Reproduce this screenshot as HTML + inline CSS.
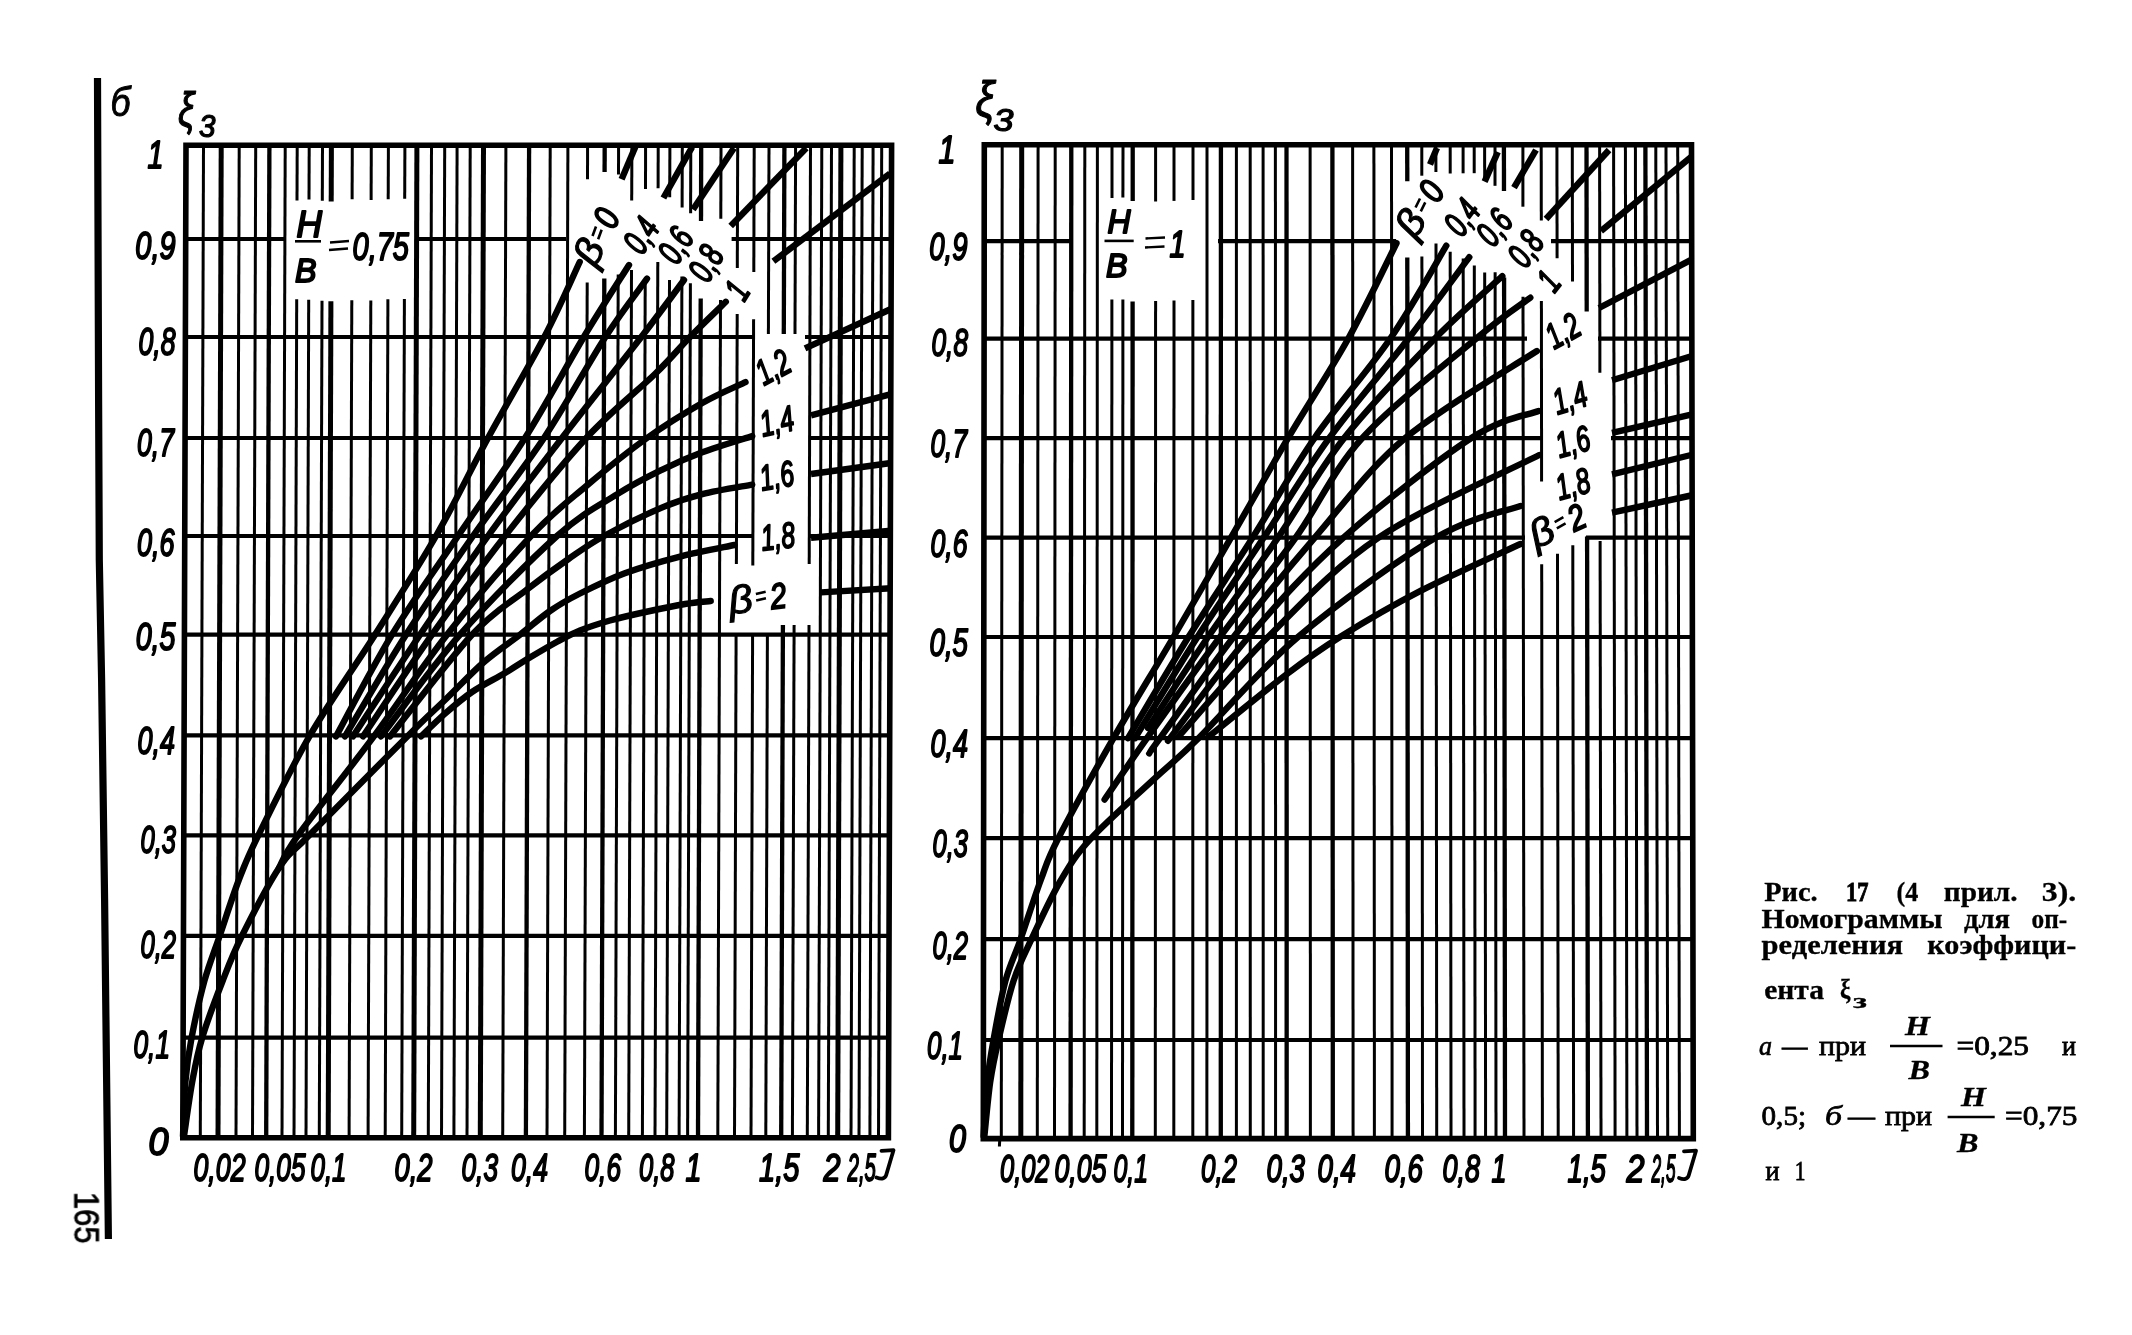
<!DOCTYPE html>
<html lang="ru"><head><meta charset="utf-8"><title>Рис. 17</title>
<style>html,body{margin:0;padding:0;background:#fff}body{width:2132px;height:1335px;overflow:hidden;position:relative;font-family:"Liberation Serif",serif}svg{position:absolute;left:0;top:0;display:block}.cap{position:absolute;color:#000;white-space:nowrap}</style></head><body>
<svg width="2132" height="1335" viewBox="0 0 2132 1335">
<rect x="0" y="0" width="2132" height="1335" fill="#fff"/>
<g stroke="#000" fill="none" stroke-linecap="butt">
<path d="M97.5 78L98.6 400L99.3 560L101.6 680L104.6 900L108.4 1239" stroke-width="7.2" fill="none"/>
<line x1="203.5" y1="145.3" x2="200.3" y2="1137.8" stroke-width="3"/>
<line x1="221.2" y1="145.3" x2="218" y2="1137.8" stroke-width="5"/>
<line x1="239.2" y1="145.3" x2="236" y2="1137.8" stroke-width="3"/>
<line x1="255.7" y1="145.3" x2="252.5" y2="1137.8" stroke-width="3"/>
<line x1="269.4" y1="145.3" x2="266.2" y2="1137.8" stroke-width="4.3"/>
<line x1="285.2" y1="145.3" x2="282" y2="1137.8" stroke-width="3"/>
<line x1="297.2" y1="145.3" x2="297" y2="200.5" stroke-width="3"/>
<line x1="296.7" y1="299.3" x2="294" y2="1137.8" stroke-width="3"/>
<line x1="309.2" y1="145.3" x2="309" y2="199.6" stroke-width="3"/>
<line x1="308.7" y1="299.7" x2="306" y2="1137.8" stroke-width="3"/>
<line x1="322.5" y1="145.3" x2="322.3" y2="200.8" stroke-width="3"/>
<line x1="322" y1="300.7" x2="319.3" y2="1137.8" stroke-width="3"/>
<line x1="331.4" y1="145.3" x2="331.2" y2="201.5" stroke-width="5"/>
<line x1="330.9" y1="301.3" x2="328.2" y2="1137.8" stroke-width="5"/>
<line x1="352.3" y1="145.3" x2="352.1" y2="199.3" stroke-width="3"/>
<line x1="351.8" y1="300.2" x2="349.1" y2="1137.8" stroke-width="3"/>
<line x1="371.3" y1="145.3" x2="371.1" y2="199.9" stroke-width="3"/>
<line x1="370.8" y1="300.4" x2="368.1" y2="1137.8" stroke-width="3"/>
<line x1="388.4" y1="145.3" x2="388.2" y2="199.2" stroke-width="3"/>
<line x1="387.9" y1="299.3" x2="385.2" y2="1137.8" stroke-width="3"/>
<line x1="404.9" y1="145.3" x2="404.7" y2="198.7" stroke-width="3"/>
<line x1="404.4" y1="299" x2="401.7" y2="1137.8" stroke-width="3"/>
<line x1="416.9" y1="145.3" x2="413.7" y2="1137.8" stroke-width="5"/>
<line x1="431.5" y1="145.3" x2="428.3" y2="1137.8" stroke-width="3"/>
<line x1="444.7" y1="145.3" x2="441.5" y2="1137.8" stroke-width="3"/>
<line x1="457.1" y1="145.3" x2="453.9" y2="1137.8" stroke-width="3"/>
<line x1="470.2" y1="145.3" x2="467" y2="1137.8" stroke-width="3"/>
<line x1="483.5" y1="145.3" x2="480.3" y2="1137.8" stroke-width="5"/>
<line x1="505.9" y1="145.3" x2="502.7" y2="1137.8" stroke-width="3"/>
<line x1="529.1" y1="145.3" x2="525.9" y2="1137.8" stroke-width="4.3"/>
<line x1="550.2" y1="145.3" x2="547" y2="1137.8" stroke-width="3"/>
<line x1="567.9" y1="145.3" x2="564.7" y2="1137.8" stroke-width="3"/>
<line x1="587.6" y1="145.3" x2="587.5" y2="179.2" stroke-width="3"/>
<line x1="587.2" y1="282.6" x2="584.4" y2="1137.8" stroke-width="3"/>
<line x1="604.7" y1="145.3" x2="604.6" y2="171.9" stroke-width="4.3"/>
<line x1="604.3" y1="278.5" x2="601.5" y2="1137.8" stroke-width="4.3"/>
<line x1="618.6" y1="145.3" x2="618.5" y2="174.6" stroke-width="3"/>
<line x1="618.2" y1="274.5" x2="615.4" y2="1137.8" stroke-width="3"/>
<line x1="631.9" y1="145.3" x2="631.7" y2="200.5" stroke-width="3"/>
<line x1="631.5" y1="270.1" x2="628.7" y2="1137.8" stroke-width="3"/>
<line x1="645.6" y1="145.3" x2="645.5" y2="189" stroke-width="3"/>
<line x1="645.2" y1="283.4" x2="642.4" y2="1137.8" stroke-width="3"/>
<line x1="658.2" y1="145.3" x2="658.1" y2="188.3" stroke-width="3"/>
<line x1="657.8" y1="262.1" x2="655" y2="1137.8" stroke-width="3"/>
<line x1="669.9" y1="145.3" x2="669.7" y2="197.2" stroke-width="3"/>
<line x1="669.5" y1="280" x2="666.7" y2="1137.8" stroke-width="3"/>
<line x1="682.3" y1="145.3" x2="682.1" y2="207.6" stroke-width="3"/>
<line x1="681.9" y1="276.6" x2="679.1" y2="1137.8" stroke-width="3"/>
<line x1="690.8" y1="145.3" x2="690.6" y2="213.2" stroke-width="3"/>
<line x1="690.4" y1="283.2" x2="687.6" y2="1137.8" stroke-width="3"/>
<line x1="701.2" y1="145.3" x2="701" y2="221" stroke-width="4.3"/>
<line x1="700.7" y1="298.4" x2="698" y2="1137.8" stroke-width="4.3"/>
<line x1="721" y1="145.3" x2="720.8" y2="218.7" stroke-width="3"/>
<line x1="720.5" y1="300" x2="717.8" y2="1137.8" stroke-width="3"/>
<line x1="737.7" y1="145.3" x2="737.3" y2="268" stroke-width="3"/>
<line x1="737.2" y1="314" x2="736.4" y2="564" stroke-width="3"/>
<line x1="736.1" y1="634.7" x2="734.5" y2="1137.8" stroke-width="3"/>
<line x1="754.2" y1="145.3" x2="753.8" y2="272.1" stroke-width="3"/>
<line x1="753.6" y1="319.2" x2="752.8" y2="565.6" stroke-width="3"/>
<line x1="752.6" y1="634.7" x2="751" y2="1137.8" stroke-width="3"/>
<line x1="769" y1="145.3" x2="768.4" y2="334" stroke-width="3"/>
<line x1="767.4" y1="634" x2="765.8" y2="1137.8" stroke-width="3"/>
<line x1="784.4" y1="145.3" x2="783.8" y2="334" stroke-width="4.3"/>
<line x1="782.9" y1="625" x2="781.2" y2="1137.8" stroke-width="4.3"/>
<line x1="795.6" y1="145.3" x2="795" y2="334" stroke-width="3"/>
<line x1="794.1" y1="625" x2="792.4" y2="1137.8" stroke-width="3"/>
<line x1="810.5" y1="145.3" x2="809.2" y2="564" stroke-width="3"/>
<line x1="809" y1="625" x2="807.3" y2="1137.8" stroke-width="3"/>
<line x1="821.8" y1="145.3" x2="818.6" y2="1137.8" stroke-width="3"/>
<line x1="831.5" y1="145.3" x2="828.3" y2="1137.8" stroke-width="3"/>
<line x1="840.9" y1="145.3" x2="837.7" y2="1137.8" stroke-width="5"/>
<line x1="854.2" y1="145.3" x2="851" y2="1137.8" stroke-width="3"/>
<line x1="862.2" y1="145.3" x2="859" y2="1137.8" stroke-width="3"/>
<line x1="873.1" y1="145.3" x2="869.9" y2="1137.8" stroke-width="3"/>
<line x1="881.7" y1="145.3" x2="878.5" y2="1137.8" stroke-width="3"/>
<line x1="185.7" y1="239" x2="286" y2="239" stroke-width="4.2"/>
<line x1="415" y1="239" x2="566" y2="239" stroke-width="4.2"/>
<line x1="731.6" y1="239" x2="891.3" y2="239" stroke-width="4.2"/>
<line x1="185.4" y1="337" x2="754" y2="337" stroke-width="4.2"/>
<line x1="805" y1="337" x2="891" y2="337" stroke-width="4.2"/>
<line x1="185.1" y1="438" x2="754" y2="438" stroke-width="4.2"/>
<line x1="810" y1="438" x2="890.7" y2="438" stroke-width="4.2"/>
<line x1="184.7" y1="536" x2="754" y2="536" stroke-width="4.2"/>
<line x1="808" y1="536" x2="890.3" y2="536" stroke-width="4.2"/>
<line x1="184.4" y1="634.7" x2="890" y2="634.7" stroke-width="4.2"/>
<line x1="184.1" y1="735.4" x2="889.7" y2="735.4" stroke-width="4.2"/>
<line x1="183.8" y1="835.4" x2="889.4" y2="835.4" stroke-width="4.2"/>
<line x1="183.5" y1="935.8" x2="889.1" y2="935.8" stroke-width="4.2"/>
<line x1="183.1" y1="1037.7" x2="888.7" y2="1037.7" stroke-width="4.2"/>
<path d="M186 145.3L891.6 145.3L888.4 1137.8L182.8 1137.8Z" fill="none" stroke-width="5.6" stroke-linejoin="miter"/>
<path d="M183 1136C183.4 1127 184 1098.4 185.4 1082C186.8 1065.6 188.4 1054.5 191.6 1037.7C194.8 1020.9 199.7 998 204.4 981C209.1 964 214 952.6 219.7 935.8C225.4 919 232.4 896.7 238.8 880C245.2 863.3 246.4 859.5 258.3 835.4C270.2 811.3 290.6 768.8 310 735.4C329.4 702 354 667.9 375 634.7C396 601.5 417.2 568.8 436 536C454.8 503.2 469.9 471.2 488 438C506.1 404.8 529 366.3 544.3 337C559.6 307.7 573.8 274.5 579.7 262" fill="none" stroke-width="6.4" stroke-linecap="round"/>
<path d="M621.6 179.3L635.5 146.4" fill="none" stroke-width="6.4" stroke-linecap="butt"/>
<path d="M336 736.4C345.3 719.5 371.7 668.1 392 634.7C412.3 601.3 435.8 568.8 458 536C480.2 503.2 504 471.2 525 438C546 404.8 566.5 365.8 583.8 337C601.1 308.2 621.5 277 629 265" fill="none" stroke-width="6.4" stroke-linecap="round"/>
<path d="M663.4 198C667.8 190.2 684.9 159.8 689.7 151.3C694.5 142.8 691.6 147.7 692 147" fill="none" stroke-width="6.4" stroke-linecap="butt"/>
<path d="M345 736.4C355.2 719.5 384.7 668.1 406 634.7C427.3 601.3 450 568.8 473 536C496 503.2 521.9 471.2 544 438C566.1 404.8 588.2 363.6 605.4 337C622.6 310.4 640.1 288.4 647 278.7" fill="none" stroke-width="6.4" stroke-linecap="round"/>
<path d="M693 209.6L734 148" fill="none" stroke-width="6.4" stroke-linecap="butt"/>
<path d="M353 736.4C364.2 719.5 397.5 668.1 420 634.7C442.5 601.3 464.3 568.8 488 536C511.7 503.2 536.5 471.2 562 438C587.5 404.8 621 363.3 641.3 337C661.6 310.7 676.9 289.5 684 280" fill="none" stroke-width="6.4" stroke-linecap="round"/>
<path d="M730.7 226L806.3 148" fill="none" stroke-width="6.4" stroke-linecap="butt"/>
<path d="M363 736.4C374.5 719.5 408.3 668.1 432 634.7C455.7 601.3 479.3 568.8 505 536C530.7 503.2 561.3 465 586.3 438C611.3 411 637.7 390.8 655 374C672.3 357.2 678.2 349 690 337C701.8 325 719.8 307.7 725.8 301.8" fill="none" stroke-width="6.4" stroke-linecap="round"/>
<path d="M773.4 261.3L890 173.5" fill="none" stroke-width="6.4" stroke-linecap="butt"/>
<path d="M279 868C282.2 862.6 282.1 857.5 298 835.4C313.9 813.3 349.8 768.8 374.6 735.4C399.4 702 420.9 667.9 447 634.7C473.1 601.5 507.8 560.8 531 536C554.2 511.2 567 502.3 586.3 486C605.6 469.7 627.7 451.8 647 438C666.3 424.2 685.9 412.3 702.3 403C718.7 393.7 738.3 385.6 745.5 382.1" fill="none" stroke-width="6.4" stroke-linecap="round"/>
<path d="M805 348.4L891 309" fill="none" stroke-width="6.4" stroke-linecap="butt"/>
<path d="M381 736.4C394.2 719.5 430.7 668.1 460 634.7C489.3 601.3 530.8 559.4 557 536C583.2 512.6 599.8 505.1 617.3 494.1C634.8 483.1 647.6 476.8 661.8 469.8C676 462.8 687.2 457.9 702.3 452.3C717.4 446.7 743.9 438.8 752.2 436.1" fill="none" stroke-width="6.4" stroke-linecap="round"/>
<path d="M811 415.4L891 394.2" fill="none" stroke-width="6.4" stroke-linecap="butt"/>
<path d="M390 736.4C403.7 719.5 449.3 659.1 472 634.7C494.7 610.3 510.2 602.6 526.3 590C542.4 577.4 555.5 568 568.5 559C581.5 550 588.5 544.6 604 536C619.5 527.4 645.4 514.6 661.8 507.6C678.2 500.6 687.2 497.9 702.3 494.1C717.4 490.3 743.9 486.2 752.2 484.6" fill="none" stroke-width="6.4" stroke-linecap="round"/>
<path d="M811 474L891 463" fill="none" stroke-width="6.4" stroke-linecap="butt"/>
<path d="M184 1136C185.4 1127 189.2 1098.4 192.2 1082C195.2 1065.6 197.1 1054.5 202.2 1037.7C207.3 1020.9 216 998 222.6 981C229.2 964 232.6 954.6 242 935.8C251.4 917 267.8 884.7 279 868C290.2 851.3 287.4 857.5 309 835.4C330.6 813.3 385.6 758 408.3 735.4C431 712.8 432.4 712.2 445 700C457.6 687.8 471.5 672.9 484 662C496.5 651.1 509 643.2 520 634.7C531 626.2 540 617.9 550 611C560 604.1 567.5 599.8 580 593.5C592.5 587.2 608 579.4 624.8 573.2C641.6 567 662.7 561 681 556.3C699.3 551.6 725.6 546.9 734.5 545" fill="none" stroke-width="6.4" stroke-linecap="round"/>
<path d="M811 537.8L891 530.7" fill="none" stroke-width="6.4" stroke-linecap="butt"/>
<path d="M421 736.4C425 732.6 436.5 721 445 713.6C453.5 706.2 462 698.8 472 692C482 685.2 495.5 678.7 505 673C514.5 667.3 520.2 663.2 529 658C537.8 652.8 549.1 646.1 557.6 641.5C566.1 636.9 571.3 634 580 630.5C588.7 627 598.7 623.7 610 620.5C621.3 617.3 635.2 614.2 647.7 611.5C660.2 608.8 674.5 605.8 685 604C695.5 602.2 706.4 601.5 710.7 601" fill="none" stroke-width="6.4" stroke-linecap="round"/>
<path d="M821 592.4L891 588.3" fill="none" stroke-width="6.4" stroke-linecap="butt"/>
<line x1="1002.2" y1="144.8" x2="1001.3" y2="1138.6" stroke-width="3"/>
<line x1="1021.7" y1="144.8" x2="1020.8" y2="1138.6" stroke-width="5"/>
<line x1="1038.1" y1="144.8" x2="1037.3" y2="1138.6" stroke-width="3"/>
<line x1="1055.2" y1="144.8" x2="1054.5" y2="1138.6" stroke-width="3"/>
<line x1="1071.3" y1="144.8" x2="1070.6" y2="1138.6" stroke-width="4.3"/>
<line x1="1084.8" y1="144.8" x2="1084.2" y2="1138.6" stroke-width="3"/>
<line x1="1097.4" y1="144.8" x2="1096.8" y2="1138.6" stroke-width="3"/>
<line x1="1112" y1="144.8" x2="1112" y2="198" stroke-width="3"/>
<line x1="1111.9" y1="299.5" x2="1111.5" y2="1138.6" stroke-width="3"/>
<line x1="1123" y1="144.8" x2="1122.9" y2="197.6" stroke-width="3"/>
<line x1="1122.9" y1="299.6" x2="1122.5" y2="1138.6" stroke-width="3"/>
<line x1="1132.7" y1="144.8" x2="1132.7" y2="201" stroke-width="4.3"/>
<line x1="1132.6" y1="301.5" x2="1132.3" y2="1138.6" stroke-width="4.3"/>
<line x1="1155.6" y1="144.8" x2="1155.6" y2="201.5" stroke-width="3"/>
<line x1="1155.6" y1="301" x2="1155.3" y2="1138.6" stroke-width="3"/>
<line x1="1174" y1="144.8" x2="1174" y2="200.9" stroke-width="3"/>
<line x1="1174" y1="300.5" x2="1173.8" y2="1138.6" stroke-width="3"/>
<line x1="1193" y1="144.8" x2="1193" y2="200" stroke-width="3"/>
<line x1="1192.9" y1="300" x2="1192.8" y2="1138.6" stroke-width="3"/>
<line x1="1207" y1="144.8" x2="1206.9" y2="1138.6" stroke-width="3"/>
<line x1="1220.9" y1="144.8" x2="1220.8" y2="1138.6" stroke-width="4.3"/>
<line x1="1236.4" y1="144.8" x2="1236.4" y2="1138.6" stroke-width="3"/>
<line x1="1250.2" y1="144.8" x2="1250.3" y2="1138.6" stroke-width="3"/>
<line x1="1263.1" y1="144.8" x2="1263.2" y2="1138.6" stroke-width="3"/>
<line x1="1275.4" y1="144.8" x2="1275.6" y2="1138.6" stroke-width="3"/>
<line x1="1286.5" y1="144.8" x2="1286.7" y2="1138.6" stroke-width="4.3"/>
<line x1="1310.1" y1="144.8" x2="1310.4" y2="1138.6" stroke-width="3"/>
<line x1="1332.4" y1="144.8" x2="1332.8" y2="1138.6" stroke-width="4.3"/>
<line x1="1352.6" y1="144.8" x2="1353.1" y2="1138.6" stroke-width="3"/>
<line x1="1373.9" y1="144.8" x2="1374.4" y2="1138.6" stroke-width="3"/>
<line x1="1391.5" y1="144.8" x2="1392.1" y2="1138.6" stroke-width="3"/>
<line x1="1407.2" y1="144.8" x2="1407.3" y2="181.3" stroke-width="4.3"/>
<line x1="1407.3" y1="257.4" x2="1407.9" y2="1138.6" stroke-width="4.3"/>
<line x1="1421.8" y1="144.8" x2="1421.8" y2="175.7" stroke-width="3"/>
<line x1="1421.9" y1="256.4" x2="1422.5" y2="1138.6" stroke-width="3"/>
<line x1="1435.9" y1="144.8" x2="1435.9" y2="172" stroke-width="3"/>
<line x1="1436" y1="243.4" x2="1436.7" y2="1138.6" stroke-width="3"/>
<line x1="1450.2" y1="144.8" x2="1450.2" y2="173.5" stroke-width="3"/>
<line x1="1450.2" y1="251.7" x2="1451" y2="1138.6" stroke-width="3"/>
<line x1="1463.1" y1="144.8" x2="1463.1" y2="173.3" stroke-width="3"/>
<line x1="1463.2" y1="258.5" x2="1464" y2="1138.6" stroke-width="3"/>
<line x1="1474.2" y1="144.8" x2="1474.2" y2="173.2" stroke-width="3"/>
<line x1="1474.3" y1="265.5" x2="1475.1" y2="1138.6" stroke-width="3"/>
<line x1="1484.6" y1="144.8" x2="1484.7" y2="181.1" stroke-width="3"/>
<line x1="1484.7" y1="272.6" x2="1485.6" y2="1138.6" stroke-width="3"/>
<line x1="1495" y1="144.8" x2="1495" y2="185.8" stroke-width="3"/>
<line x1="1495.1" y1="272.2" x2="1496" y2="1138.6" stroke-width="3"/>
<line x1="1503.9" y1="144.8" x2="1504" y2="190.9" stroke-width="4.3"/>
<line x1="1504.1" y1="277.5" x2="1505" y2="1138.6" stroke-width="4.3"/>
<line x1="1522.9" y1="144.8" x2="1522.9" y2="206.7" stroke-width="3"/>
<line x1="1523" y1="296.7" x2="1524" y2="1138.6" stroke-width="3"/>
<line x1="1541.2" y1="144.8" x2="1541.3" y2="220.4" stroke-width="3"/>
<line x1="1541.4" y1="300.9" x2="1541.6" y2="481.4" stroke-width="3"/>
<line x1="1541.7" y1="564.3" x2="1542.4" y2="1138.6" stroke-width="3"/>
<line x1="1556.9" y1="144.8" x2="1557.1" y2="258.3" stroke-width="3"/>
<line x1="1557.5" y1="553.7" x2="1558.2" y2="1138.6" stroke-width="3"/>
<line x1="1572.3" y1="144.8" x2="1572.5" y2="281.4" stroke-width="3"/>
<line x1="1572.8" y1="545.2" x2="1573.6" y2="1138.6" stroke-width="3"/>
<line x1="1586.5" y1="144.8" x2="1586.7" y2="311.6" stroke-width="4.3"/>
<line x1="1587.1" y1="536.4" x2="1587.9" y2="1138.6" stroke-width="4.3"/>
<line x1="1599.6" y1="144.8" x2="1599.9" y2="372.7" stroke-width="3"/>
<line x1="1600.1" y1="541" x2="1601" y2="1138.6" stroke-width="3"/>
<line x1="1613.6" y1="144.8" x2="1615.1" y2="1138.6" stroke-width="3"/>
<line x1="1625.4" y1="144.8" x2="1626.9" y2="1138.6" stroke-width="3"/>
<line x1="1635.4" y1="144.8" x2="1637" y2="1138.6" stroke-width="3"/>
<line x1="1645.4" y1="144.8" x2="1647" y2="1138.6" stroke-width="4.3"/>
<line x1="1655.8" y1="144.8" x2="1657.5" y2="1138.6" stroke-width="3"/>
<line x1="1666" y1="144.8" x2="1667.7" y2="1138.6" stroke-width="3"/>
<line x1="1677.7" y1="144.8" x2="1679.4" y2="1138.6" stroke-width="3"/>
<line x1="984.2" y1="241.2" x2="1073" y2="241.2" stroke-width="4.2"/>
<line x1="1218" y1="241.2" x2="1396" y2="241.2" stroke-width="4.2"/>
<line x1="1551" y1="241.2" x2="1691.7" y2="241.2" stroke-width="4.2"/>
<line x1="984.1" y1="338.7" x2="1527" y2="338.7" stroke-width="4.2"/>
<line x1="1598" y1="338.7" x2="1691.9" y2="338.7" stroke-width="4.2"/>
<line x1="984" y1="438.2" x2="1543" y2="438.2" stroke-width="4.2"/>
<line x1="1611" y1="438.2" x2="1692" y2="438.2" stroke-width="4.2"/>
<line x1="983.9" y1="537.6" x2="1525" y2="537.6" stroke-width="4.2"/>
<line x1="1586" y1="537.6" x2="1692.2" y2="537.6" stroke-width="4.2"/>
<line x1="983.8" y1="637" x2="1692.4" y2="637" stroke-width="4.2"/>
<line x1="983.7" y1="738.2" x2="1692.6" y2="738.2" stroke-width="4.2"/>
<line x1="983.6" y1="838.2" x2="1692.8" y2="838.2" stroke-width="4.2"/>
<line x1="983.5" y1="939.2" x2="1692.9" y2="939.2" stroke-width="4.2"/>
<line x1="983.4" y1="1040" x2="1693.1" y2="1040" stroke-width="4.2"/>
<path d="M984.3 144.8L1691.5 144.8L1693.3 1138.6L983.3 1138.6Z" fill="none" stroke-width="5.6" stroke-linejoin="miter"/>
<path d="M983.6 1136C984.2 1127 985.6 1098 987.2 1082C988.9 1066 990.5 1056.8 993.5 1040C996.5 1023.2 1000.9 997.8 1005.4 981C1009.9 964.2 1014.7 956 1020.6 939.2C1026.5 922.4 1034.5 896.8 1040.8 880C1047.1 863.2 1046.2 861.8 1058.3 838.2C1070.4 814.6 1094.3 771.7 1113.5 738.2C1132.7 704.7 1153.9 670.4 1173.5 637C1193.1 603.6 1211.9 570.7 1231 537.6C1250.1 504.5 1268.5 471.4 1288 438.2C1307.5 405 1330.1 371.2 1348.2 338.7C1366.3 306.2 1388.5 259.1 1396.5 243.2" fill="none" stroke-width="6.4" stroke-linecap="round"/>
<path d="M1430 164.4L1437 148" fill="none" stroke-width="6.4" stroke-linecap="butt"/>
<path d="M1128 738.2C1138.1 721.3 1167.7 670.4 1188.5 637C1209.3 603.6 1231.6 570.7 1252.6 537.6C1273.6 504.5 1291.5 471.4 1314.4 438.2C1337.3 405 1368.2 370.8 1390.2 338.7C1412.2 306.6 1437 261.2 1446.3 245.7" fill="none" stroke-width="6.4" stroke-linecap="round"/>
<path d="M1484.6 181.6L1497.8 152" fill="none" stroke-width="6.4" stroke-linecap="butt"/>
<path d="M1135 738.2C1145.4 721.3 1176 670.4 1197.5 637C1219 603.6 1241.8 570.7 1263.8 537.6C1285.8 504.5 1305.1 471.4 1329.2 438.2C1353.3 405 1385.1 368.9 1408.4 338.7C1431.8 308.5 1459.2 270.8 1469.3 257.2" fill="none" stroke-width="6.4" stroke-linecap="round"/>
<path d="M1514 187.6L1536 150" fill="none" stroke-width="6.4" stroke-linecap="butt"/>
<path d="M1148 728C1158 712.8 1186.3 668.7 1208 637C1229.7 605.3 1255.3 570.7 1278 537.6C1300.7 504.5 1317.9 471.4 1344 438.2C1370.1 405 1408.3 365.7 1434.7 338.7C1461.1 311.7 1491 286.6 1502.3 276.2" fill="none" stroke-width="6.4" stroke-linecap="round"/>
<path d="M1546 219L1609 150" fill="none" stroke-width="6.4" stroke-linecap="butt"/>
<path d="M1104.6 799.5C1111.7 789.3 1127.8 765.3 1147 738.2C1166.2 711.1 1195.2 670.4 1220 637C1244.8 603.6 1272 570.7 1295.7 537.6C1319.4 504.5 1332.2 471.4 1362.2 438.2C1392.2 405 1448 362.1 1476 338.7C1504 315.3 1521.2 304.5 1530.3 297.7" fill="none" stroke-width="6.4" stroke-linecap="round"/>
<path d="M1601 231L1692 156.3" fill="none" stroke-width="6.4" stroke-linecap="butt"/>
<path d="M1149.2 753.4C1151 750.9 1145.9 757.6 1160 738.2C1174.1 718.8 1207.8 670.4 1233.6 637C1259.4 603.6 1286.2 570.7 1314.8 537.6C1343.4 504.5 1368 469.3 1405 438.2C1442 407.1 1514.9 365.5 1536.9 351" fill="none" stroke-width="6.4" stroke-linecap="round"/>
<path d="M1599 308L1692 259.4" fill="none" stroke-width="6.4" stroke-linecap="butt"/>
<path d="M1168 740.8C1181.4 723.5 1219.3 670.9 1248.6 637C1277.8 603.1 1306.4 570.7 1343.5 537.6C1380.6 504.5 1438.5 459.3 1471 438.2C1503.5 417.1 1527.3 415.5 1538.6 411" fill="none" stroke-width="6.4" stroke-linecap="round"/>
<path d="M1612 380.2L1692 356" fill="none" stroke-width="6.4" stroke-linecap="butt"/>
<path d="M1178.6 736.6C1193.5 720 1234.7 670.2 1268 637C1301.3 603.8 1333.4 567.9 1378.6 537.6C1423.8 507.3 1512.4 468.8 1539.2 455" fill="none" stroke-width="6.4" stroke-linecap="round"/>
<path d="M1612 432.8L1691 414.6" fill="none" stroke-width="6.4" stroke-linecap="butt"/>
<path d="M984.4 1136C985.4 1127 987.9 1098 990.2 1082C992.6 1066 994.6 1056.8 998.5 1040C1002.4 1023.2 1008 997.8 1013.5 981C1019 964.2 1023.6 956 1031.5 939.2C1039.4 922.4 1051 896.8 1061 880C1071 863.2 1075.9 854.9 1091.3 838.2C1106.7 821.5 1135.5 796.3 1153.4 779.6C1171.3 762.9 1174.4 762 1198.5 738.2C1222.6 714.4 1258.4 670.4 1298 637C1337.6 603.6 1398.9 559.4 1436 537.6C1473.1 515.8 1506.4 511.3 1520.5 506" fill="none" stroke-width="6.4" stroke-linecap="round"/>
<path d="M1612 474.3L1691 455" fill="none" stroke-width="6.4" stroke-linecap="butt"/>
<path d="M1210 735.6C1222.7 725.5 1264.3 691.1 1286 674.7C1307.7 658.3 1317.5 651 1340 637C1362.5 623 1390.9 606.2 1421 590.7C1451.1 575.2 1503.9 551.8 1520.5 544" fill="none" stroke-width="6.4" stroke-linecap="round"/>
<path d="M1612 512.7L1691 495.5" fill="none" stroke-width="6.4" stroke-linecap="butt"/>
<line x1="999.8" y1="1138" x2="999.4" y2="1146.5" stroke-width="3"/>
</g>
<defs><filter id="nf" x="0" y="0" width="2132" height="1335" filterUnits="userSpaceOnUse" primitiveUnits="userSpaceOnUse"><feOffset dx="0" dy="0"/></filter></defs>
<g filter="url(#nf)">
<text x="147.5" y="167.5" textLength="16" lengthAdjust="spacingAndGlyphs" font-family="'Liberation Sans', sans-serif" font-size="39" font-style="italic" fill="#000" stroke="#000" stroke-width="1.9" stroke-linejoin="round">1</text>
<text x="135.3" y="258.8" textLength="40.2" lengthAdjust="spacingAndGlyphs" font-family="'Liberation Sans', sans-serif" font-size="39" font-style="italic" fill="#000" stroke="#000" stroke-width="1.9" stroke-linejoin="round">0,9</text>
<text x="138.5" y="355" textLength="37" lengthAdjust="spacingAndGlyphs" font-family="'Liberation Sans', sans-serif" font-size="39" font-style="italic" fill="#000" stroke="#000" stroke-width="1.9" stroke-linejoin="round">0,8</text>
<text x="137" y="456" textLength="37" lengthAdjust="spacingAndGlyphs" font-family="'Liberation Sans', sans-serif" font-size="39" font-style="italic" fill="#000" stroke="#000" stroke-width="1.9" stroke-linejoin="round">0,7</text>
<text x="137" y="556" textLength="37.5" lengthAdjust="spacingAndGlyphs" font-family="'Liberation Sans', sans-serif" font-size="39" font-style="italic" fill="#000" stroke="#000" stroke-width="1.9" stroke-linejoin="round">0,6</text>
<text x="135.7" y="650" textLength="39.8" lengthAdjust="spacingAndGlyphs" font-family="'Liberation Sans', sans-serif" font-size="39" font-style="italic" fill="#000" stroke="#000" stroke-width="1.9" stroke-linejoin="round">0,5</text>
<text x="137.5" y="753.5" textLength="37.5" lengthAdjust="spacingAndGlyphs" font-family="'Liberation Sans', sans-serif" font-size="39" font-style="italic" fill="#000" stroke="#000" stroke-width="1.9" stroke-linejoin="round">0,4</text>
<text x="140.5" y="852.5" textLength="35.5" lengthAdjust="spacingAndGlyphs" font-family="'Liberation Sans', sans-serif" font-size="39" font-style="italic" fill="#000" stroke="#000" stroke-width="1.9" stroke-linejoin="round">0,3</text>
<text x="140.5" y="957.5" textLength="35.5" lengthAdjust="spacingAndGlyphs" font-family="'Liberation Sans', sans-serif" font-size="39" font-style="italic" fill="#000" stroke="#000" stroke-width="1.9" stroke-linejoin="round">0,2</text>
<text x="133.5" y="1057.5" textLength="36.5" lengthAdjust="spacingAndGlyphs" font-family="'Liberation Sans', sans-serif" font-size="39" font-style="italic" fill="#000" stroke="#000" stroke-width="1.9" stroke-linejoin="round">0,1</text>
<text x="148.5" y="1155" textLength="20" lengthAdjust="spacingAndGlyphs" font-family="'Liberation Sans', sans-serif" font-size="39" font-style="italic" fill="#000" stroke="#000" stroke-width="1.9" stroke-linejoin="round">0</text>
<text x="938.5" y="162.5" textLength="17" lengthAdjust="spacingAndGlyphs" font-family="'Liberation Sans', sans-serif" font-size="39" font-style="italic" fill="#000" stroke="#000" stroke-width="1.9" stroke-linejoin="round">1</text>
<text x="929.2" y="260" textLength="38.3" lengthAdjust="spacingAndGlyphs" font-family="'Liberation Sans', sans-serif" font-size="39" font-style="italic" fill="#000" stroke="#000" stroke-width="1.9" stroke-linejoin="round">0,9</text>
<text x="931.5" y="356" textLength="36.5" lengthAdjust="spacingAndGlyphs" font-family="'Liberation Sans', sans-serif" font-size="39" font-style="italic" fill="#000" stroke="#000" stroke-width="1.9" stroke-linejoin="round">0,8</text>
<text x="930.5" y="457" textLength="36.5" lengthAdjust="spacingAndGlyphs" font-family="'Liberation Sans', sans-serif" font-size="39" font-style="italic" fill="#000" stroke="#000" stroke-width="1.9" stroke-linejoin="round">0,7</text>
<text x="930.5" y="556.5" textLength="37" lengthAdjust="spacingAndGlyphs" font-family="'Liberation Sans', sans-serif" font-size="39" font-style="italic" fill="#000" stroke="#000" stroke-width="1.9" stroke-linejoin="round">0,6</text>
<text x="929.5" y="655.5" textLength="38.5" lengthAdjust="spacingAndGlyphs" font-family="'Liberation Sans', sans-serif" font-size="39" font-style="italic" fill="#000" stroke="#000" stroke-width="1.9" stroke-linejoin="round">0,5</text>
<text x="930.5" y="757" textLength="37.5" lengthAdjust="spacingAndGlyphs" font-family="'Liberation Sans', sans-serif" font-size="39" font-style="italic" fill="#000" stroke="#000" stroke-width="1.9" stroke-linejoin="round">0,4</text>
<text x="932.5" y="857" textLength="35.5" lengthAdjust="spacingAndGlyphs" font-family="'Liberation Sans', sans-serif" font-size="39" font-style="italic" fill="#000" stroke="#000" stroke-width="1.9" stroke-linejoin="round">0,3</text>
<text x="932.5" y="958.5" textLength="35.5" lengthAdjust="spacingAndGlyphs" font-family="'Liberation Sans', sans-serif" font-size="39" font-style="italic" fill="#000" stroke="#000" stroke-width="1.9" stroke-linejoin="round">0,2</text>
<text x="927" y="1059" textLength="36" lengthAdjust="spacingAndGlyphs" font-family="'Liberation Sans', sans-serif" font-size="39" font-style="italic" fill="#000" stroke="#000" stroke-width="1.9" stroke-linejoin="round">0,1</text>
<text x="949" y="1152" textLength="17" lengthAdjust="spacingAndGlyphs" font-family="'Liberation Sans', sans-serif" font-size="39" font-style="italic" fill="#000" stroke="#000" stroke-width="1.9" stroke-linejoin="round">0</text>
<text x="193.5" y="1180.5" textLength="52" lengthAdjust="spacingAndGlyphs" font-family="'Liberation Sans', sans-serif" font-size="39" font-style="italic" fill="#000" stroke="#000" stroke-width="1.9" stroke-linejoin="round">0,02</text>
<text x="254.5" y="1180.5" textLength="51" lengthAdjust="spacingAndGlyphs" font-family="'Liberation Sans', sans-serif" font-size="39" font-style="italic" fill="#000" stroke="#000" stroke-width="1.9" stroke-linejoin="round">0,05</text>
<text x="310.5" y="1180.5" textLength="36" lengthAdjust="spacingAndGlyphs" font-family="'Liberation Sans', sans-serif" font-size="39" font-style="italic" fill="#000" stroke="#000" stroke-width="1.9" stroke-linejoin="round">0,1</text>
<text x="394.5" y="1180.5" textLength="38" lengthAdjust="spacingAndGlyphs" font-family="'Liberation Sans', sans-serif" font-size="39" font-style="italic" fill="#000" stroke="#000" stroke-width="1.9" stroke-linejoin="round">0,2</text>
<text x="461.5" y="1180.5" textLength="36.5" lengthAdjust="spacingAndGlyphs" font-family="'Liberation Sans', sans-serif" font-size="39" font-style="italic" fill="#000" stroke="#000" stroke-width="1.9" stroke-linejoin="round">0,3</text>
<text x="511" y="1180.5" textLength="37" lengthAdjust="spacingAndGlyphs" font-family="'Liberation Sans', sans-serif" font-size="39" font-style="italic" fill="#000" stroke="#000" stroke-width="1.9" stroke-linejoin="round">0,4</text>
<text x="584.5" y="1180.5" textLength="36.5" lengthAdjust="spacingAndGlyphs" font-family="'Liberation Sans', sans-serif" font-size="39" font-style="italic" fill="#000" stroke="#000" stroke-width="1.9" stroke-linejoin="round">0,6</text>
<text x="639" y="1180.5" textLength="35.5" lengthAdjust="spacingAndGlyphs" font-family="'Liberation Sans', sans-serif" font-size="39" font-style="italic" fill="#000" stroke="#000" stroke-width="1.9" stroke-linejoin="round">0,8</text>
<text x="685.5" y="1180.5" textLength="16" lengthAdjust="spacingAndGlyphs" font-family="'Liberation Sans', sans-serif" font-size="39" font-style="italic" fill="#000" stroke="#000" stroke-width="1.9" stroke-linejoin="round">1</text>
<text x="759" y="1180.5" textLength="40.5" lengthAdjust="spacingAndGlyphs" font-family="'Liberation Sans', sans-serif" font-size="39" font-style="italic" fill="#000" stroke="#000" stroke-width="1.9" stroke-linejoin="round">1,5</text>
<text x="823.5" y="1180.5" textLength="17" lengthAdjust="spacingAndGlyphs" font-family="'Liberation Sans', sans-serif" font-size="39" font-style="italic" fill="#000" stroke="#000" stroke-width="1.9" stroke-linejoin="round">2</text>
<text x="847.5" y="1180.5" textLength="28.5" lengthAdjust="spacingAndGlyphs" font-family="'Liberation Sans', sans-serif" font-size="39" font-style="italic" fill="#000" stroke="#000" stroke-width="1.9" stroke-linejoin="round">2,5</text>
<text x="1000" y="1181.5" textLength="49.5" lengthAdjust="spacingAndGlyphs" font-family="'Liberation Sans', sans-serif" font-size="39" font-style="italic" fill="#000" stroke="#000" stroke-width="1.9" stroke-linejoin="round">0,02</text>
<text x="1054.5" y="1181.5" textLength="52" lengthAdjust="spacingAndGlyphs" font-family="'Liberation Sans', sans-serif" font-size="39" font-style="italic" fill="#000" stroke="#000" stroke-width="1.9" stroke-linejoin="round">0,05</text>
<text x="1113.5" y="1181.5" textLength="34.5" lengthAdjust="spacingAndGlyphs" font-family="'Liberation Sans', sans-serif" font-size="39" font-style="italic" fill="#000" stroke="#000" stroke-width="1.9" stroke-linejoin="round">0,1</text>
<text x="1201" y="1181.5" textLength="36" lengthAdjust="spacingAndGlyphs" font-family="'Liberation Sans', sans-serif" font-size="39" font-style="italic" fill="#000" stroke="#000" stroke-width="1.9" stroke-linejoin="round">0,2</text>
<text x="1266.5" y="1181.5" textLength="38.5" lengthAdjust="spacingAndGlyphs" font-family="'Liberation Sans', sans-serif" font-size="39" font-style="italic" fill="#000" stroke="#000" stroke-width="1.9" stroke-linejoin="round">0,3</text>
<text x="1317.5" y="1181.5" textLength="38.5" lengthAdjust="spacingAndGlyphs" font-family="'Liberation Sans', sans-serif" font-size="39" font-style="italic" fill="#000" stroke="#000" stroke-width="1.9" stroke-linejoin="round">0,4</text>
<text x="1384.5" y="1181.5" textLength="38.5" lengthAdjust="spacingAndGlyphs" font-family="'Liberation Sans', sans-serif" font-size="39" font-style="italic" fill="#000" stroke="#000" stroke-width="1.9" stroke-linejoin="round">0,6</text>
<text x="1442.5" y="1181.5" textLength="37.5" lengthAdjust="spacingAndGlyphs" font-family="'Liberation Sans', sans-serif" font-size="39" font-style="italic" fill="#000" stroke="#000" stroke-width="1.9" stroke-linejoin="round">0,8</text>
<text x="1491.5" y="1181.5" textLength="15" lengthAdjust="spacingAndGlyphs" font-family="'Liberation Sans', sans-serif" font-size="39" font-style="italic" fill="#000" stroke="#000" stroke-width="1.9" stroke-linejoin="round">1</text>
<text x="1567.5" y="1181.5" textLength="38.5" lengthAdjust="spacingAndGlyphs" font-family="'Liberation Sans', sans-serif" font-size="39" font-style="italic" fill="#000" stroke="#000" stroke-width="1.9" stroke-linejoin="round">1,5</text>
<text x="1626.5" y="1181.5" textLength="18" lengthAdjust="spacingAndGlyphs" font-family="'Liberation Sans', sans-serif" font-size="39" font-style="italic" fill="#000" stroke="#000" stroke-width="1.9" stroke-linejoin="round">2</text>
<text x="1651.5" y="1181.5" textLength="24" lengthAdjust="spacingAndGlyphs" font-family="'Liberation Sans', sans-serif" font-size="39" font-style="italic" fill="#000" stroke="#000" stroke-width="1.9" stroke-linejoin="round">2,5</text>
<path transform="translate(0 0)" d="M881.5 1150.8L893.5 1150.2L886.2 1175Q884.5 1180.5 876.5 1177.5" fill="none" stroke="#000" stroke-width="3.8" stroke-linejoin="round" stroke-linecap="round"/>
<path transform="translate(802.5 0.5)" d="M881.5 1150.8L893.5 1150.2L886.2 1175Q884.5 1180.5 876.5 1177.5" fill="none" stroke="#000" stroke-width="3.8" stroke-linejoin="round" stroke-linecap="round"/>
<text x="178" y="125.5" textLength="16.5" lengthAdjust="spacingAndGlyphs" font-family="'Liberation Sans', sans-serif" font-size="49" font-style="italic" fill="#000" stroke="#000" stroke-width="1.2" stroke-linejoin="round">ξ</text>
<text x="199" y="137" textLength="16.5" lengthAdjust="spacingAndGlyphs" font-family="'Liberation Sans', sans-serif" font-size="31" font-style="italic" fill="#000" stroke="#000" stroke-width="1.2" stroke-linejoin="round">3</text>
<text x="975.5" y="116" textLength="19" lengthAdjust="spacingAndGlyphs" font-family="'Liberation Sans', sans-serif" font-size="50" font-style="italic" fill="#000" stroke="#000" stroke-width="1.2" stroke-linejoin="round">ξ</text>
<text x="993.5" y="131" textLength="20" lengthAdjust="spacingAndGlyphs" font-family="'Liberation Sans', sans-serif" font-size="31" font-style="italic" fill="#000" stroke="#000" stroke-width="1.2" stroke-linejoin="round">3</text>
<text x="110.5" y="115.5" textLength="20" lengthAdjust="spacingAndGlyphs" font-family="'Liberation Sans', sans-serif" font-size="41" font-style="italic" fill="#000" stroke="#000" stroke-width="1" stroke-linejoin="round">б</text>
<text transform="translate(74.6 1192) rotate(90) scale(0.86 1)" font-family="'Liberation Sans', sans-serif" font-size="36" fill="#000" stroke="#000" stroke-width="0.8">165</text>
<text x="296.5" y="236.8" textLength="25.5" lengthAdjust="spacingAndGlyphs" font-family="'Liberation Sans', sans-serif" font-size="36" font-style="italic" fill="#000" stroke="#000" stroke-width="1.9" stroke-linejoin="round">H</text>
<line x1="295" y1="241.3" x2="321" y2="241.3" stroke="#000" stroke-width="2.6"/>
<text x="295" y="281.8" textLength="21.5" lengthAdjust="spacingAndGlyphs" font-family="'Liberation Sans', sans-serif" font-size="34" font-style="italic" fill="#000" stroke="#000" stroke-width="1.9" stroke-linejoin="round">B</text>
<path d="M330 242.5L349 241M329 250L348 248.5" stroke="#000" stroke-width="2.4" fill="none"/>
<text x="352.5" y="259.5" textLength="56.5" lengthAdjust="spacingAndGlyphs" font-family="'Liberation Sans', sans-serif" font-size="39" font-style="italic" fill="#000" stroke="#000" stroke-width="1.9" stroke-linejoin="round">0,75</text>
<text x="1107.5" y="233" textLength="23" lengthAdjust="spacingAndGlyphs" font-family="'Liberation Sans', sans-serif" font-size="33" font-style="italic" fill="#000" stroke="#000" stroke-width="1.9" stroke-linejoin="round">H</text>
<line x1="1104.5" y1="240.9" x2="1133.7" y2="240.9" stroke="#000" stroke-width="2.6"/>
<text x="1106" y="276.9" textLength="21.5" lengthAdjust="spacingAndGlyphs" font-family="'Liberation Sans', sans-serif" font-size="33" font-style="italic" fill="#000" stroke="#000" stroke-width="1.9" stroke-linejoin="round">B</text>
<path d="M1145.5 238.5L1165 237.5M1145 247.5L1164.5 246.5" stroke="#000" stroke-width="2.4" fill="none"/>
<text x="1169.5" y="256.6" textLength="16" lengthAdjust="spacingAndGlyphs" font-family="'Liberation Sans', sans-serif" font-size="36" font-style="italic" fill="#000" stroke="#000" stroke-width="1.9" stroke-linejoin="round">1</text>
<g transform="translate(597 237) rotate(-64)">
<text x="-29" y="12.5" textLength="24" lengthAdjust="spacingAndGlyphs" font-family="'Liberation Sans', sans-serif" font-size="39" font-style="italic" fill="#000" stroke="#000" stroke-width="1.1">β</text>
<path d="M-1 -4.5L9 -5.5M-1.5 2L8.5 1" stroke="#000" stroke-width="2.6" fill="none"/>
<text x="13" y="12.5" textLength="16" lengthAdjust="spacingAndGlyphs" font-family="'Liberation Sans', sans-serif" font-size="36" font-style="italic" fill="#000" stroke="#000" stroke-width="1.9">0</text>
</g>
<text transform="translate(640.4 235) rotate(-57) scale(0.680 1)" y="13" text-anchor="middle" font-family="'Liberation Sans', sans-serif" font-size="36" font-style="italic" fill="#000" stroke="#000" stroke-width="1.9" stroke-linejoin="round">0,4</text>
<text transform="translate(675 245) rotate(-58) scale(0.680 1)" y="13" text-anchor="middle" font-family="'Liberation Sans', sans-serif" font-size="36" font-style="italic" fill="#000" stroke="#000" stroke-width="1.9" stroke-linejoin="round">0,6</text>
<text transform="translate(705.3 263) rotate(-60) scale(0.680 1)" y="13" text-anchor="middle" font-family="'Liberation Sans', sans-serif" font-size="36" font-style="italic" fill="#000" stroke="#000" stroke-width="1.9" stroke-linejoin="round">0,8</text>
<text transform="translate(736.5 290) rotate(-58) scale(0.680 1)" y="13" text-anchor="middle" font-family="'Liberation Sans', sans-serif" font-size="36" font-style="italic" fill="#000" stroke="#000" stroke-width="1.9" stroke-linejoin="round">1</text>
<text transform="translate(772.6 366.6) rotate(-28) scale(0.680 1)" y="13" text-anchor="middle" font-family="'Liberation Sans', sans-serif" font-size="36" font-style="italic" fill="#000" stroke="#000" stroke-width="1.9" stroke-linejoin="round">1,2</text>
<text transform="translate(776.6 420.5) rotate(-12) scale(0.680 1)" y="13" text-anchor="middle" font-family="'Liberation Sans', sans-serif" font-size="36" font-style="italic" fill="#000" stroke="#000" stroke-width="1.9" stroke-linejoin="round">1,4</text>
<text transform="translate(776.6 475) rotate(-10) scale(0.680 1)" y="13" text-anchor="middle" font-family="'Liberation Sans', sans-serif" font-size="36" font-style="italic" fill="#000" stroke="#000" stroke-width="1.9" stroke-linejoin="round">1,6</text>
<text transform="translate(777.7 535.7) rotate(-6) scale(0.680 1)" y="13" text-anchor="middle" font-family="'Liberation Sans', sans-serif" font-size="36" font-style="italic" fill="#000" stroke="#000" stroke-width="1.9" stroke-linejoin="round">1,8</text>
<g transform="translate(757.4 598.4) rotate(-7)">
<text x="-29" y="12.5" textLength="24" lengthAdjust="spacingAndGlyphs" font-family="'Liberation Sans', sans-serif" font-size="39" font-style="italic" fill="#000" stroke="#000" stroke-width="1.1">β</text>
<path d="M-1 -4.5L9 -5.5M-1.5 2L8.5 1" stroke="#000" stroke-width="2.6" fill="none"/>
<text x="13" y="12.5" textLength="16" lengthAdjust="spacingAndGlyphs" font-family="'Liberation Sans', sans-serif" font-size="36" font-style="italic" fill="#000" stroke="#000" stroke-width="1.9">2</text>
</g>
<g transform="translate(1419.9 209) rotate(-58)">
<text x="-29" y="12.5" textLength="24" lengthAdjust="spacingAndGlyphs" font-family="'Liberation Sans', sans-serif" font-size="39" font-style="italic" fill="#000" stroke="#000" stroke-width="1.1">β</text>
<path d="M-1 -4.5L9 -5.5M-1.5 2L8.5 1" stroke="#000" stroke-width="2.6" fill="none"/>
<text x="13" y="12.5" textLength="16" lengthAdjust="spacingAndGlyphs" font-family="'Liberation Sans', sans-serif" font-size="36" font-style="italic" fill="#000" stroke="#000" stroke-width="1.9">0</text>
</g>
<text transform="translate(1461.4 217) rotate(-53) scale(0.680 1)" y="13" text-anchor="middle" font-family="'Liberation Sans', sans-serif" font-size="36" font-style="italic" fill="#000" stroke="#000" stroke-width="1.9" stroke-linejoin="round">0,4</text>
<text transform="translate(1493.7 227) rotate(-51) scale(0.680 1)" y="13" text-anchor="middle" font-family="'Liberation Sans', sans-serif" font-size="36" font-style="italic" fill="#000" stroke="#000" stroke-width="1.9" stroke-linejoin="round">0,6</text>
<text transform="translate(1525 248.3) rotate(-54) scale(0.680 1)" y="13" text-anchor="middle" font-family="'Liberation Sans', sans-serif" font-size="36" font-style="italic" fill="#000" stroke="#000" stroke-width="1.9" stroke-linejoin="round">0,8</text>
<text transform="translate(1548.3 280.7) rotate(-52) scale(0.680 1)" y="13" text-anchor="middle" font-family="'Liberation Sans', sans-serif" font-size="36" font-style="italic" fill="#000" stroke="#000" stroke-width="1.9" stroke-linejoin="round">1</text>
<text transform="translate(1562.5 330.2) rotate(-29) scale(0.680 1)" y="13" text-anchor="middle" font-family="'Liberation Sans', sans-serif" font-size="36" font-style="italic" fill="#000" stroke="#000" stroke-width="1.9" stroke-linejoin="round">1,2</text>
<text transform="translate(1569.6 397.4) rotate(-17) scale(0.680 1)" y="13" text-anchor="middle" font-family="'Liberation Sans', sans-serif" font-size="36" font-style="italic" fill="#000" stroke="#000" stroke-width="1.9" stroke-linejoin="round">1,4</text>
<text transform="translate(1572.6 441) rotate(-15) scale(0.680 1)" y="13" text-anchor="middle" font-family="'Liberation Sans', sans-serif" font-size="36" font-style="italic" fill="#000" stroke="#000" stroke-width="1.9" stroke-linejoin="round">1,6</text>
<text transform="translate(1572.6 483.4) rotate(-15) scale(0.680 1)" y="13" text-anchor="middle" font-family="'Liberation Sans', sans-serif" font-size="36" font-style="italic" fill="#000" stroke="#000" stroke-width="1.9" stroke-linejoin="round">1,8</text>
<g transform="translate(1557.4 525.9) rotate(-24)">
<text x="-29" y="12.5" textLength="24" lengthAdjust="spacingAndGlyphs" font-family="'Liberation Sans', sans-serif" font-size="39" font-style="italic" fill="#000" stroke="#000" stroke-width="1.1">β</text>
<path d="M-1 -4.5L9 -5.5M-1.5 2L8.5 1" stroke="#000" stroke-width="2.6" fill="none"/>
<text x="13" y="12.5" textLength="16" lengthAdjust="spacingAndGlyphs" font-family="'Liberation Sans', sans-serif" font-size="36" font-style="italic" fill="#000" stroke="#000" stroke-width="1.9">2</text>
</g>
<text x="1764.2" y="900.8" textLength="53.5" lengthAdjust="spacingAndGlyphs" font-family="'Liberation Serif', serif" font-size="27" font-weight="bold" font-style="normal" fill="#000" stroke="#000" stroke-width="0.3">Рис.</text>
<text x="1846" y="900.8" textLength="22.4" lengthAdjust="spacingAndGlyphs" font-family="'Liberation Serif', serif" font-size="27" font-weight="bold" font-style="normal" fill="#000" stroke="#000" stroke-width="0.9">17</text>
<text x="1896.6" y="900.8" textLength="21.7" lengthAdjust="spacingAndGlyphs" font-family="'Liberation Serif', serif" font-size="27" font-weight="bold" font-style="normal" fill="#000" stroke="#000" stroke-width="0.3">(4</text>
<text x="1943.8" y="900.8" textLength="73.8" lengthAdjust="spacingAndGlyphs" font-family="'Liberation Serif', serif" font-size="27" font-weight="bold" font-style="normal" fill="#000" stroke="#000" stroke-width="0.3">прил.</text>
<text x="2041.8" y="900.8" textLength="34.4" lengthAdjust="spacingAndGlyphs" font-family="'Liberation Serif', serif" font-size="27" font-weight="bold" font-style="normal" fill="#000" stroke="#000" stroke-width="0.3">3).</text>
<text x="1761.6" y="927.5" textLength="180.9" lengthAdjust="spacingAndGlyphs" font-family="'Liberation Serif', serif" font-size="27" font-weight="bold" font-style="normal" fill="#000" stroke="#000" stroke-width="0.3">Номограммы</text>
<text x="1964" y="927.5" textLength="46" lengthAdjust="spacingAndGlyphs" font-family="'Liberation Serif', serif" font-size="27" font-weight="bold" font-style="normal" fill="#000" stroke="#000" stroke-width="0.3">для</text>
<text x="2031.6" y="927.5" textLength="35.7" lengthAdjust="spacingAndGlyphs" font-family="'Liberation Serif', serif" font-size="27" font-weight="bold" font-style="normal" fill="#000" stroke="#000" stroke-width="0.3">оп-</text>
<text x="1761.6" y="954.2" textLength="141.4" lengthAdjust="spacingAndGlyphs" font-family="'Liberation Serif', serif" font-size="27" font-weight="bold" font-style="normal" fill="#000" stroke="#000" stroke-width="0.3">ределения</text>
<text x="1927.2" y="954.2" textLength="149" lengthAdjust="spacingAndGlyphs" font-family="'Liberation Serif', serif" font-size="27" font-weight="bold" font-style="normal" fill="#000" stroke="#000" stroke-width="0.3">коэффици-</text>
<text x="1764.2" y="998.8" textLength="59.8" lengthAdjust="spacingAndGlyphs" font-family="'Liberation Serif', serif" font-size="27" font-weight="bold" font-style="normal" fill="#000" stroke="#000" stroke-width="0.3">ента</text>
<text x="1840" y="998" textLength="10.5" lengthAdjust="spacingAndGlyphs" font-family="'Liberation Serif', serif" font-size="27" font-weight="bold" font-style="normal" fill="#000" stroke="#000" stroke-width="0.3">ξ</text>
<text x="1853" y="1008" textLength="14" lengthAdjust="spacingAndGlyphs" font-family="'Liberation Serif', serif" font-size="20" font-weight="bold" font-style="normal" fill="#000" stroke="#000" stroke-width="0.3">з</text>
<text x="1759" y="1054.9" textLength="13" lengthAdjust="spacingAndGlyphs" font-family="'Liberation Serif', serif" font-size="28" font-weight="normal" font-style="italic" fill="#000" stroke="#000" stroke-width="0.7">а</text>
<text x="1782" y="1054.9" textLength="25.5" lengthAdjust="spacingAndGlyphs" font-family="'Liberation Serif', serif" font-size="28" font-weight="normal" font-style="normal" fill="#000" stroke="#000" stroke-width="0.7">—</text>
<text x="1819" y="1054.9" textLength="47" lengthAdjust="spacingAndGlyphs" font-family="'Liberation Serif', serif" font-size="28" font-weight="normal" font-style="normal" fill="#000" stroke="#000" stroke-width="0.8">при</text>
<text x="1905" y="1034.5" textLength="25" lengthAdjust="spacingAndGlyphs" font-family="'Liberation Serif', serif" font-size="27" font-weight="bold" font-style="italic" fill="#000" stroke="#000" stroke-width="0.3">Н</text>
<line x1="1890" y1="1046" x2="1942.5" y2="1046" stroke="#000" stroke-width="2.6"/>
<text x="1908.5" y="1079" textLength="21.5" lengthAdjust="spacingAndGlyphs" font-family="'Liberation Serif', serif" font-size="27" font-weight="bold" font-style="italic" fill="#000" stroke="#000" stroke-width="0.3">В</text>
<text x="1956.5" y="1054.9" textLength="72.5" lengthAdjust="spacingAndGlyphs" font-family="'Liberation Serif', serif" font-size="28" font-weight="normal" font-style="normal" fill="#000" stroke="#000" stroke-width="0.8">=0,25</text>
<text x="2062" y="1054.9" textLength="14" lengthAdjust="spacingAndGlyphs" font-family="'Liberation Serif', serif" font-size="28" font-weight="normal" font-style="normal" fill="#000" stroke="#000" stroke-width="0.8">и</text>
<text x="1761.6" y="1125" textLength="44.4" lengthAdjust="spacingAndGlyphs" font-family="'Liberation Serif', serif" font-size="28" font-weight="normal" font-style="normal" fill="#000" stroke="#000" stroke-width="0.8">0,5;</text>
<text x="1825" y="1125" textLength="17" lengthAdjust="spacingAndGlyphs" font-family="'Liberation Serif', serif" font-size="28" font-weight="normal" font-style="italic" fill="#000" stroke="#000" stroke-width="0.7">б</text>
<text x="1848" y="1125" textLength="27" lengthAdjust="spacingAndGlyphs" font-family="'Liberation Serif', serif" font-size="28" font-weight="normal" font-style="normal" fill="#000" stroke="#000" stroke-width="0.7">—</text>
<text x="1885" y="1125" textLength="47" lengthAdjust="spacingAndGlyphs" font-family="'Liberation Serif', serif" font-size="28" font-weight="normal" font-style="normal" fill="#000" stroke="#000" stroke-width="0.8">при</text>
<text x="1961" y="1105.8" textLength="25" lengthAdjust="spacingAndGlyphs" font-family="'Liberation Serif', serif" font-size="27" font-weight="bold" font-style="italic" fill="#000" stroke="#000" stroke-width="0.3">Н</text>
<line x1="1947.6" y1="1117" x2="1994.7" y2="1117" stroke="#000" stroke-width="2.6"/>
<text x="1957" y="1151.6" textLength="21.5" lengthAdjust="spacingAndGlyphs" font-family="'Liberation Serif', serif" font-size="27" font-weight="bold" font-style="italic" fill="#000" stroke="#000" stroke-width="0.3">В</text>
<text x="2005" y="1125" textLength="72.5" lengthAdjust="spacingAndGlyphs" font-family="'Liberation Serif', serif" font-size="28" font-weight="normal" font-style="normal" fill="#000" stroke="#000" stroke-width="0.8">=0,75</text>
<text x="1765.5" y="1179.7" textLength="14" lengthAdjust="spacingAndGlyphs" font-family="'Liberation Serif', serif" font-size="28" font-weight="normal" font-style="normal" fill="#000" stroke="#000" stroke-width="0.8">и</text>
<text x="1794.8" y="1179.7" textLength="10.7" lengthAdjust="spacingAndGlyphs" font-family="'Liberation Serif', serif" font-size="28" font-weight="normal" font-style="normal" fill="#000" stroke="#000" stroke-width="0.8">1</text>
</g>
</svg>
</body></html>
